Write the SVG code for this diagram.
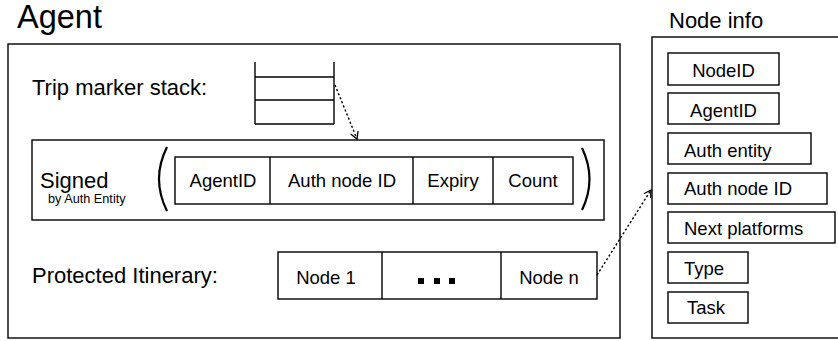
<svg xmlns="http://www.w3.org/2000/svg" width="838" height="341" viewBox="0 0 838 341">
<defs>
<style>
rect, line, .p { fill: none; stroke: #000; stroke-width: 1.4; }
text { font-family: "Liberation Sans", Arial, sans-serif; fill: #000; }
.t22 { font-size: 22px; }
.t18 { font-size: 18.5px; }
.c { text-anchor: middle; }
.dot { stroke-dasharray: 2.2 2.2; fill: none; stroke: #000; stroke-width: 1.4; }
.paren { fill: none; stroke: #000; stroke-width: 2.2; }
</style>
<marker id="ah" markerWidth="10" markerHeight="10" refX="8" refY="5" orient="auto" markerUnits="userSpaceOnUse">
<path d="M1,1 L8,5 L1,9" fill="none" stroke="#000" stroke-width="1.3"/>
</marker>
</defs>
<rect width="838" height="341" fill="#fff" style="stroke:none"/>

<g id="agent">
<text x="17" y="28" style="font-size:32.5px">Agent</text>
<rect x="8" y="44" width="612" height="294"/>
</g>

<g id="trip-marker-stack">
<text x="32" y="95" class="t22">Trip marker stack:</text>
<line x1="255" y1="62" x2="255" y2="124"/>
<line x1="334" y1="62" x2="334" y2="124"/>
<line x1="255" y1="77" x2="334" y2="77"/>
<line x1="255" y1="100" x2="334" y2="100"/>
<line x1="255" y1="124" x2="334" y2="124"/>
</g>

<g id="signed">
<rect x="32" y="140" width="572" height="80"/>
<text x="40" y="188" class="t22">Signed</text>
<text x="48" y="203" style="font-size:12.7px">by Auth Entity</text>
<path class="paren" d="M167,147 Q151,179 167,211"/>
<path class="paren" d="M582,148 Q597,179 582,210"/>
<rect x="175" y="157" width="398" height="47"/>
<line x1="270" y1="157" x2="270" y2="204"/>
<line x1="413" y1="157" x2="413" y2="204"/>
<line x1="493" y1="157" x2="493" y2="204"/>
<text x="223" y="187" class="t18 c">AgentID</text>
<text x="342" y="187" class="t18 c">Auth node ID</text>
<text x="453" y="187" class="t18 c">Expiry</text>
<text x="533" y="187" class="t18 c">Count</text>
</g>

<g id="itinerary">
<text x="32" y="283" class="t22">Protected Itinerary:</text>
<rect x="278" y="252" width="319" height="47"/>
<line x1="382" y1="252" x2="382" y2="299"/>
<line x1="501" y1="252" x2="501" y2="299"/>
<text x="326" y="284" class="t18 c">Node 1</text>
<rect x="418" y="278" width="6" height="6" style="fill:#000;stroke:none"/>
<rect x="434" y="278" width="6" height="6" style="fill:#000;stroke:none"/>
<rect x="449" y="278" width="6" height="6" style="fill:#000;stroke:none"/>
<text x="549" y="284" class="t18 c">Node n</text>
</g>

<g id="node-info">
<text x="669" y="28" class="t22">Node info</text>
<rect x="652" y="37" width="200" height="301"/>
<rect x="668" y="53" width="111" height="32"/>
<text x="723.5" y="77" class="t18 c">NodeID</text>
<rect x="668" y="93" width="111" height="31"/>
<text x="723.5" y="117" class="t18 c">AgentID</text>
<rect x="668" y="133" width="143" height="31"/>
<text x="684" y="157" class="t18">Auth entity</text>
<rect x="668" y="173" width="159" height="31"/>
<text x="684" y="195" class="t18">Auth node ID</text>
<rect x="668" y="212" width="167" height="31"/>
<text x="684" y="235" class="t18">Next platforms</text>
<rect x="668" y="252" width="80" height="31"/>
<text x="684" y="275" class="t18">Type</text>
<rect x="668" y="292" width="80" height="31"/>
<text x="687" y="314" class="t18">Task</text>
</g>

<g id="connectors">
<line class="dot" x1="335" y1="85" x2="357" y2="139" marker-end="url(#ah)"/>
<line class="dot" x1="597" y1="275" x2="651" y2="190" marker-end="url(#ah)"/>
</g>
</svg>
